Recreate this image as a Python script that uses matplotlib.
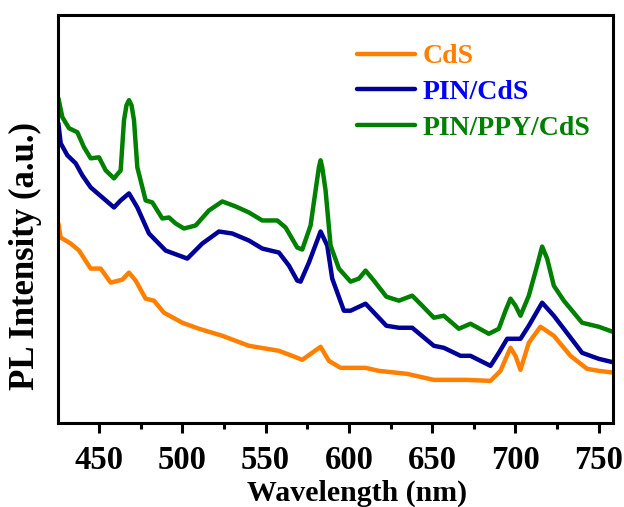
import matplotlib
matplotlib.use("Agg")
import matplotlib.pyplot as plt

# wavelength (nm) / PL intensity (a.u.)
cds_x = [425.6, 427, 433, 438, 445, 451, 457, 464, 468, 472, 478, 483, 489, 500, 510, 524,
         540, 558, 569, 572, 583, 588, 595, 610, 618, 635, 651, 671, 685, 691, 697, 700,
         703, 708, 715, 723, 733, 743, 750, 760]
cds_y = [199, 185, 179, 172, 154, 154, 140, 143, 150, 142, 124, 122, 110, 100, 94, 87,
         77, 72, 65, 63, 76, 62, 55, 55, 52, 49, 43, 43, 42, 52, 75, 67,
         53, 80, 96, 87, 67, 54, 52, 50]

pin_x = [425.6, 427, 431, 436, 440, 445, 452, 459, 463, 468, 473, 480, 490, 503, 512, 522,
         530, 540, 548, 558, 564, 569, 571, 576, 583, 587, 590, 597, 601, 610, 622.5, 630,
         638, 651, 657, 667, 673, 685, 690, 695, 703, 708, 716, 723, 729, 740, 750, 760]
pin_y = [299, 279, 267, 259, 247, 235, 225, 215, 222, 229, 215, 189, 172, 164, 179, 191,
         189, 182, 174, 170, 157, 142, 141, 160, 191, 177, 144, 112, 112, 119, 97, 95,
         95, 77, 75, 67, 67, 57, 70, 84, 84, 97, 120, 107, 94, 70, 64, 60]

ppy_x = [425.6, 428, 432, 437, 441, 445, 450, 454, 459, 463, 465, 466.5, 468, 469.5, 471, 473,
         478, 482, 488, 492, 496, 501, 508, 516, 524, 532, 540, 548, 557, 562, 569, 572,
         577, 580, 582, 583, 584, 586, 589, 594, 601, 606, 610, 615, 622.5, 630, 638, 644,
         651, 657, 666, 673, 684, 690, 694, 697, 700, 703, 708, 713, 716, 719, 723, 729,
         735, 740, 750, 760]
ppy_y = [324, 305, 294, 290, 275, 264, 265, 252, 244, 252, 302, 317, 322, 317, 302, 255,
         222, 220, 204, 205, 199, 194, 197, 212, 221, 216, 210, 202, 202, 195, 175, 173,
         197, 232, 255, 262, 255, 232, 177, 154, 141, 144, 152, 142, 126, 122, 127, 117,
         105, 107, 94, 99, 89, 94, 112, 124, 117, 107, 127, 157, 176, 164, 137, 122,
         110, 100, 96, 90]

series = [
    ("CdS", cds_x, cds_y, "#ff8000", "#ff8000"),
    ("PIN/CdS", pin_x, pin_y, "#000099", "#0000ff"),
    ("PIN/PPY/CdS", ppy_x, ppy_y, "#008000", "#008000"),
]
xticks = [450, 500, 550, 600, 650, 700, 750]

plt.rcParams["font.family"] = "Liberation Serif"
plt.rcParams["font.weight"] = "bold"

fig = plt.figure(figsize=(6.24, 5.07), dpi=100)
ax = fig.add_axes([0.093, 0.1657, 0.889, 0.8048])

for label, x, y, color, _ in series:
    ax.plot(x, y, color=color, lw=3.2, label=label,
            solid_joinstyle="round", solid_capstyle="round")

ax.set_xlim(425.4, 758.4)
ax.set_ylim(0, 407)
ax.set_xticks(xticks)
ax.set_xticks(range(475, 760, 50), minor=True)
ax.set_yticks([])
ax.tick_params(axis="x", which="major", direction="out", length=7, width=2.2, labelsize=23.5, pad=9)
ax.tick_params(axis="x", which="minor", direction="out", length=4, width=2.2)
for sp in ax.spines.values():
    sp.set_linewidth(2.2)

ax.set_xlabel("Wavelength (nm)", fontsize=21.5, fontweight="bold")
ax.xaxis.set_label_coords(0.539, -0.14)
ax.set_ylabel("PL Intensity (a.u.)", fontsize=25, fontweight="bold")
ax.yaxis.set_label_coords(-0.028, 0.41)

leg = ax.legend(loc="upper left", bbox_to_anchor=(0.494, 0.99), frameon=False,
                handlelength=2.1, handletextpad=0.25, labelspacing=0.37,
                prop={"weight": "bold", "size": 20})
for line in leg.get_lines():
    line.set_linewidth(3.2)
for txt, (_, _, _, _, tc) in zip(leg.get_texts(), series):
    txt.set_color(tc)

fig.savefig("out.png", dpi=100)
